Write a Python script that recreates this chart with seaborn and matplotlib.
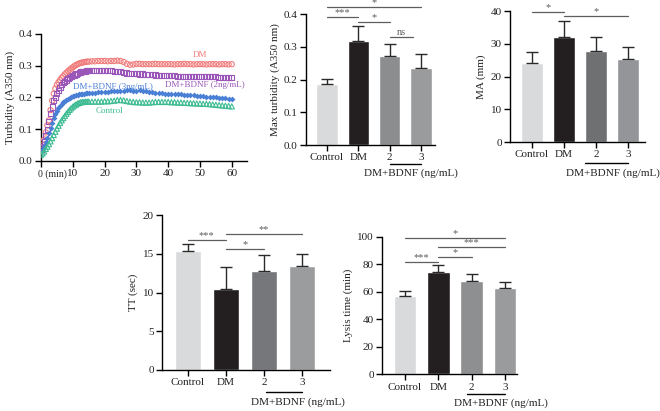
import numpy as np
import pandas as pd
import matplotlib
matplotlib.use("Agg")
from matplotlib import pyplot as plt
import seaborn as sns

sns.set_theme(style="ticks")
plt.rcParams["font.family"] = ["Liberation Serif", "DejaVu Serif"]
plt.rcParams["axes.linewidth"] = 1.0
plt.rcParams["axes.edgecolor"] = "black"

# ---- turbidity time course ----
minutes = [0, 0.5, 1, 1.5, 2, 2.5, 3, 3.5, 4, 4.5, 5, 5.5, 6, 6.5, 7, 7.5, 8, 8.5, 9, 9.5,
           10, 10.5, 11, 11.5, 12, 12.5, 13, 13.5, 14, 14.5, 15,
           16, 17, 18, 19, 20, 21, 22, 23, 24, 25, 26, 27, 28, 29, 30, 31, 32, 33, 34, 35,
           36, 37, 38, 39, 40, 41, 42, 43, 44, 45, 46, 47, 48, 49, 50, 51, 52, 53, 54, 55,
           56, 57, 58, 59, 60]

turb_dm = [0.040, 0.050, 0.068, 0.090, 0.112, 0.128, 0.160, 0.190, 0.212, 0.228, 0.240, 0.248,
           0.255, 0.262, 0.267, 0.273, 0.278, 0.283, 0.287, 0.291, 0.295, 0.299, 0.302, 0.305,
           0.307, 0.309, 0.310, 0.311, 0.312, 0.313, 0.313,
           0.314, 0.314, 0.315, 0.315, 0.315, 0.314, 0.315, 0.315, 0.316, 0.315, 0.312, 0.306,
           0.303, 0.304, 0.306, 0.306, 0.305, 0.305, 0.305, 0.305, 0.306, 0.305, 0.305, 0.305,
           0.305, 0.305, 0.304, 0.305, 0.305, 0.306, 0.305, 0.305, 0.304, 0.305, 0.305, 0.305,
           0.304, 0.305, 0.305, 0.305, 0.304, 0.305, 0.305, 0.304, 0.305]

turb_bdnf2 = [0.035, 0.045, 0.060, 0.080, 0.100, 0.125, 0.150, 0.170, 0.190, 0.200, 0.212, 0.222,
              0.232, 0.240, 0.246, 0.251, 0.255, 0.259, 0.262, 0.265, 0.268, 0.271, 0.274, 0.276,
              0.278, 0.280, 0.281, 0.282, 0.283, 0.284, 0.284,
              0.284, 0.284, 0.284, 0.284, 0.284, 0.284, 0.284, 0.283, 0.283, 0.281, 0.279, 0.277,
              0.276, 0.275, 0.275, 0.274, 0.274, 0.273, 0.273, 0.272, 0.271, 0.270, 0.269, 0.268,
              0.268, 0.268, 0.268, 0.267, 0.267, 0.267, 0.266, 0.266, 0.267, 0.266, 0.266, 0.267,
              0.266, 0.265, 0.265, 0.265, 0.264, 0.263, 0.263, 0.262, 0.262]

turb_bdnf3 = [0.030, 0.038, 0.048, 0.060, 0.072, 0.088, 0.105, 0.120, 0.135, 0.148, 0.158, 0.166,
              0.174, 0.180, 0.185, 0.189, 0.193, 0.196, 0.199, 0.202, 0.204, 0.206, 0.208, 0.209,
              0.210, 0.211, 0.212, 0.212, 0.213, 0.213, 0.214,
              0.214, 0.215, 0.216, 0.216, 0.217, 0.218, 0.219, 0.220, 0.221, 0.222, 0.222, 0.223,
              0.223, 0.222, 0.222, 0.223, 0.222, 0.220, 0.218, 0.216, 0.215, 0.214, 0.213, 0.212,
              0.212, 0.211, 0.211, 0.210, 0.210, 0.209, 0.208, 0.208, 0.207, 0.206, 0.205, 0.204,
              0.203, 0.202, 0.201, 0.200, 0.199, 0.198, 0.197, 0.196, 0.195]

turb_control = [0.020, 0.024, 0.030, 0.038, 0.045, 0.053, 0.062, 0.072, 0.082, 0.092, 0.102, 0.111,
                0.120, 0.128, 0.135, 0.142, 0.149, 0.155, 0.161, 0.166, 0.171, 0.175, 0.178, 0.181,
                0.183, 0.185, 0.186, 0.186, 0.187, 0.187, 0.187,
                0.187, 0.187, 0.187, 0.187, 0.188, 0.188, 0.189, 0.190, 0.192, 0.192, 0.191, 0.189,
                0.187, 0.186, 0.185, 0.185, 0.184, 0.184, 0.184, 0.185, 0.186, 0.186, 0.186, 0.186,
                0.186, 0.185, 0.185, 0.184, 0.184, 0.183, 0.183, 0.182, 0.182, 0.181, 0.181, 0.180,
                0.180, 0.179, 0.178, 0.177, 0.176, 0.175, 0.174, 0.173, 0.172]

# ---- bar panels ----
groups = ["Control", "DM", "2", "3"]

max_turb = [0.187, 0.318, 0.273, 0.235]
max_turb_sd = [0.016, 0.044, 0.035, 0.042]

ma = [24.0, 32.2, 27.9, 25.3]
ma_sd = [3.5, 4.6, 4.1, 3.8]

tt = [15.35, 10.5, 12.8, 13.4]
tt_sd = [0.85, 2.75, 2.0, 1.6]

lysis = [57.0, 74.0, 68.0, 63.0]
lysis_sd = [3.5, 5.5, 5.0, 4.0]

fig = plt.figure(figsize=(6.6, 4.11), dpi=100)

FS = 8
LINE_C = "#5e5e5e"


def style_axis(ax):
    sns.despine(ax=ax)
    ax.tick_params(direction="out", length=4, width=1.0, labelsize=FS, pad=2,
                   colors="black")
    for lab in ax.get_xticklabels() + ax.get_yticklabels():
        lab.set_color("#222222")


def bar_panel(rect, vals, sds, colors, ylim, yticks, yfmt, ylabel, xlim,
              sigs, under, label_x, under_y, label_y):
    ax = fig.add_axes(rect)
    df = pd.DataFrame({"group": groups, "value": vals})
    sns.barplot(data=df, x="group", y="value", hue="group", palette=colors,
                width=0.68, saturation=1, legend=False, ax=ax)
    ax.errorbar(range(len(groups)), vals, yerr=[[0] * len(sds), sds], fmt="none",
                ecolor="#2a2a2a", elinewidth=1.0, capsize=4, capthick=1.0, zorder=1)
    ax.set_ylim(*ylim)
    ax.set_xlim(*xlim)
    ax.set_yticks(yticks)
    ax.set_yticklabels([yfmt.format(t) for t in yticks])
    ax.set_xlabel("")
    ax.set_ylabel(ylabel, fontsize=FS, color="#222222", labelpad=3)
    style_axis(ax)
    for x1, x2, y, txt in sigs:
        ax.plot([x1, x2], [y, y], color=LINE_C, lw=0.9, clip_on=False)
        ax.text((x1 + x2) / 2, y, txt, ha="center", va="bottom", fontsize=7.5,
                color=LINE_C, clip_on=False)
    tr = ax.get_xaxis_transform()
    ax.plot(under, [under_y, under_y], color="black", lw=1.0, transform=tr, clip_on=False)
    ax.text(label_x, label_y, "DM+BDNF (ng/mL)", transform=tr, ha="center", va="center",
            fontsize=FS, color="#222222")
    return ax


# Panel A: turbidity curves
axA = fig.add_axes([0.0621, 0.6083, 0.3117, 0.309])
series = [
    (turb_dm, "o", "#f07c7c", False),
    (turb_bdnf2, "s", "#9a56b8", False),
    (turb_bdnf3, "D", "#4a7fd6", True),
    (turb_control, "^", "#3dbb92", False),
]
for vals, mk, col, filled in series:
    if filled:
        sns.scatterplot(x=minutes, y=vals, marker=mk, color=col, s=9, linewidth=0,
                        ax=axA, legend=False, zorder=3)
    else:
        sns.scatterplot(x=minutes, y=vals, marker=mk, facecolors="none", edgecolor=col,
                        s=14, linewidth=0.8, ax=axA, legend=False, zorder=3)
axA.set_xlim(0, 64.7)
axA.set_ylim(0, 0.4)
axA.set_xticks([0, 10, 20, 30, 40, 50, 60])
axA.set_xticklabels(["", "10", "20", "30", "40", "50", "60"])
axA.set_yticks([0.0, 0.1, 0.2, 0.3, 0.4])
axA.set_yticklabels(["0.0", "0.1", "0.2", "0.3", "0.4"])
axA.set_ylabel("Turbidity (A350 nm)", fontsize=FS, color="#222222", labelpad=3)
style_axis(axA)
axA.annotate("0 (min)", xy=(0, 0), xycoords=axA.get_xaxis_transform(),
             xytext=(-2.4, -6), textcoords="offset points", ha="left", va="top",
             fontsize=7, color="#222222")
axA.text(50, 0.326, "DM", color="#f07c7c", fontsize=6.5, ha="center")
axA.text(51.5, 0.232, "DM+BDNF (2ng/mL)", color="#9a56b8", fontsize=6.5, ha="center")
axA.text(22.5, 0.228, "DM+BDNF (3ng/mL)", color="#4a7fd6", fontsize=6.5, ha="center")
axA.text(21.4, 0.150, "Control", color="#3dbb92", fontsize=6.5, ha="center")

# Panel B: max turbidity
bar_panel([0.4636, 0.6472, 0.1955, 0.3187], max_turb, max_turb_sd,
          ["#d9dadc", "#231f20", "#8c8d8f", "#9a9b9d"],
          (0, 0.4), [0.0, 0.1, 0.2, 0.3, 0.4], "{:.1f}", "Max turbidity (A350 nm)",
          (-0.67, 3.45),
          [(0, 3, 0.42, "*"), (0, 1, 0.392, "***"), (1, 2, 0.375, "*"), (2, 2.75, 0.329, "ns")],
          [2, 3], 2.68, -0.145, -0.214)

# Panel C: MA
bar_panel([0.7727, 0.6545, 0.2045, 0.3187], ma, ma_sd,
          ["#d9dadc", "#231f20", "#6f7072", "#939598"],
          (0, 40), [0, 10, 20, 30, 40], "{:.0f}", "MA (mm)",
          (-0.69, 3.53),
          [(0, 1, 39.6, "*"), (1, 3, 38.5, "*")],
          [1.65, 3], 2.52, -0.16, -0.235)

# Panel D: TT
bar_panel([0.2455, 0.0998, 0.2545, 0.377], tt, tt_sd,
          ["#d9dadc", "#231f20", "#76777a", "#9b9c9e"],
          (0, 20), [0, 5, 10, 15, 20], "{:.0f}", "TT (sec)",
          (-0.68, 3.74),
          [(0, 1, 16.8, "***"), (1, 3, 17.55, "**"), (1, 2, 15.6, "*")],
          [2.05, 3], 2.9, -0.145, -0.206)

# Panel E: lysis time
bar_panel([0.5788, 0.0893, 0.2045, 0.3348], lysis, lysis_sd,
          ["#d9dadc", "#231f20", "#8e8f91", "#9a9b9d"],
          (0, 100), [0, 20, 40, 60, 80, 100], "{:.0f}", "Lysis time (min)",
          (-0.69, 3.36),
          [(0, 3, 99.3, "*"), (1, 3, 92.3, "***"), (0, 1, 81.8, "***"), (1, 2, 85, "*")],
          [1.86, 3], 2.88, -0.145, -0.211)

fig.savefig("out.png", dpi=100, facecolor="white")
